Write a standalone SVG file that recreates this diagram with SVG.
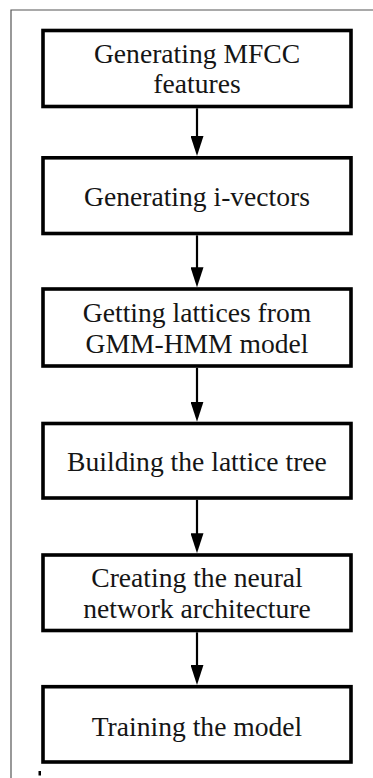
<svg xmlns="http://www.w3.org/2000/svg" width="373" height="778" viewBox="0 0 373 778">
  <style>
    .box { fill: #ffffff; stroke: #000000; stroke-width: 3.6; }
    .label { font-family: 'Liberation Serif', 'Times New Roman', serif; font-size: 27.6px; fill: #151515; text-anchor: middle; }
    .conn { stroke: #000000; stroke-width: 2.2; fill: none; marker-end: url(#arrow); }
    .frame { stroke: #555555; stroke-width: 1.2; fill: none; }
  </style>
  <defs>
    <marker id="arrow" markerUnits="userSpaceOnUse" markerWidth="20" markerHeight="13" refX="2" refY="6.5" orient="auto">
      <path d="M0,0 L20,6.5 L0,13 Z" fill="#000000"/>
    </marker>
  </defs>

  <rect width="373" height="778" fill="#ffffff"/>

  <!-- page frame: top and left rules -->
  <path class="frame" d="M11,778 L11,10 L373,10"/>
  <rect x="38.5" y="771" width="2.5" height="4.5" fill="#000000"/>

  <!-- flow steps -->
  <g id="step-mfcc">
    <rect class="box" x="43" y="30.5" width="308" height="76"/>
    <text class="label" x="197" y="62.5">Generating MFCC</text>
    <text class="label" x="197" y="92.5">features</text>
  </g>

  <g id="step-ivectors">
    <rect class="box" x="43" y="157.8" width="308" height="75.7"/>
    <text class="label" x="197" y="205.5">Generating i-vectors</text>
  </g>

  <g id="step-lattices">
    <rect class="box" x="43" y="289" width="308" height="77"/>
    <text class="label" x="197" y="322">Getting lattices from</text>
    <text class="label" x="197" y="352.5">GMM-HMM model</text>
  </g>

  <g id="step-tree">
    <rect class="box" x="43" y="423.5" width="308" height="74.5"/>
    <text class="label" x="197" y="470.5">Building the lattice tree</text>
  </g>

  <g id="step-network">
    <rect class="box" x="43" y="555" width="308" height="75.5"/>
    <text class="label" x="197" y="586.5">Creating the neural</text>
    <text class="label" x="197" y="617.5">network architecture</text>
  </g>

  <g id="step-training">
    <rect class="box" x="43" y="686.7" width="308" height="75.3"/>
    <text class="label" x="197" y="735.7">Training the model</text>
  </g>

  <!-- connectors between consecutive steps -->
  <g id="connectors">
    <line class="conn" x1="197" y1="108.3" x2="197" y2="138"/>
    <line class="conn" x1="197" y1="235.3" x2="197" y2="269.3"/>
    <line class="conn" x1="197" y1="367.8" x2="197" y2="403.7"/>
    <line class="conn" x1="197" y1="499.8" x2="197" y2="535.2"/>
    <line class="conn" x1="197" y1="632.3" x2="197" y2="666.9"/>
  </g>
</svg>
